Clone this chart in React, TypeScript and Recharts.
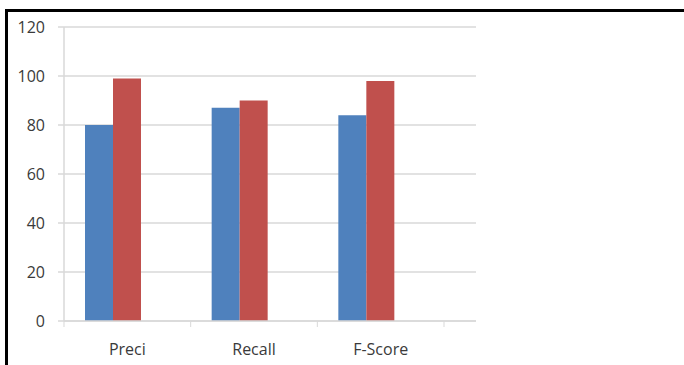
import * as React from 'react';
import { BarChart, Bar, XAxis, YAxis, CartesianGrid } from 'recharts';

const categories = ['Preci', 'Recall', 'F-Score'];
const seriesA = [80, 87, 84];
const seriesB = [99, 90, 98];
// third series is empty in the source chart, it only reserves space in each group
const seriesC = [null, null, null];
const yTicks = [0, 20, 40, 60, 80, 100, 120];

const chartData = categories.map((name, i) => ({
  name,
  a: seriesA[i],
  b: seriesB[i],
  c: seriesC[i],
}));

const AXIS_Y = 321;
const BAND = 126.67;
const GRID = '#d9d9d9';
const TEXT = '#3a3a3a';
const FONT = '"Open Sans", sans-serif';

function CategoryTick(props: any) {
  const { x, payload, index } = props;
  const left = x - BAND / 2;
  const right = x + BAND / 2;
  return (
    <g>
      <line x1={left} x2={left} y1={AXIS_Y} y2={AXIS_Y + 6} stroke={GRID} />
      {index === categories.length - 1 && (
        <line x1={right} x2={right} y1={AXIS_Y} y2={AXIS_Y + 6} stroke={GRID} />
      )}
      <text
        x={x}
        y={AXIS_Y + 34}
        textAnchor="middle"
        fill={TEXT}
        fontSize={16}
        fontFamily={FONT}
      >
        {payload.value}
      </text>
    </g>
  );
}

export default function App() {
  return (
    <div
      style={{
        position: 'absolute',
        left: 0,
        top: 0,
        width: 684,
        height: 365,
        background: '#fff',
        overflow: 'hidden',
      }}
    >
      {/* frame */}
      <div
        style={{
          position: 'absolute',
          left: 5,
          top: 9,
          width: 700,
          height: 400,
          borderTop: '3px solid #000',
          borderLeft: '3px solid #000',
        }}
      />
      <BarChart
        width={684}
        height={365}
        data={chartData}
        margin={{ top: 27, right: 208, left: 0, bottom: 0 }}
        barCategoryGap={21}
        barGap={0}
        style={{ position: 'absolute', left: 0, top: 0 }}
      >
        <CartesianGrid vertical={false} stroke={GRID} strokeWidth={1.5} />
        <XAxis
          dataKey="name"
          height={44}
          padding={{ left: 0, right: 32 }}
          axisLine={{ stroke: GRID, strokeWidth: 1.5 }}
          tickLine={false}
          tick={<CategoryTick />}
          interval={0}
        />
        <YAxis
          width={64}
          domain={[0, 120]}
          ticks={yTicks}
          interval={0}
          axisLine={{ stroke: GRID, strokeWidth: 1.5 }}
          tickLine={{ stroke: GRID, strokeWidth: 1.5 }}
          tickSize={6}
          tickMargin={13}
          tick={{ fill: TEXT, fontSize: 16, fontFamily: FONT }}
        />
        <Bar dataKey="a" fill="#4F81BD" isAnimationActive={false} />
        <Bar dataKey="b" fill="#C0504D" isAnimationActive={false} />
        <Bar dataKey="c" fill="#9BBB59" isAnimationActive={false} />
      </BarChart>
    </div>
  );
}
